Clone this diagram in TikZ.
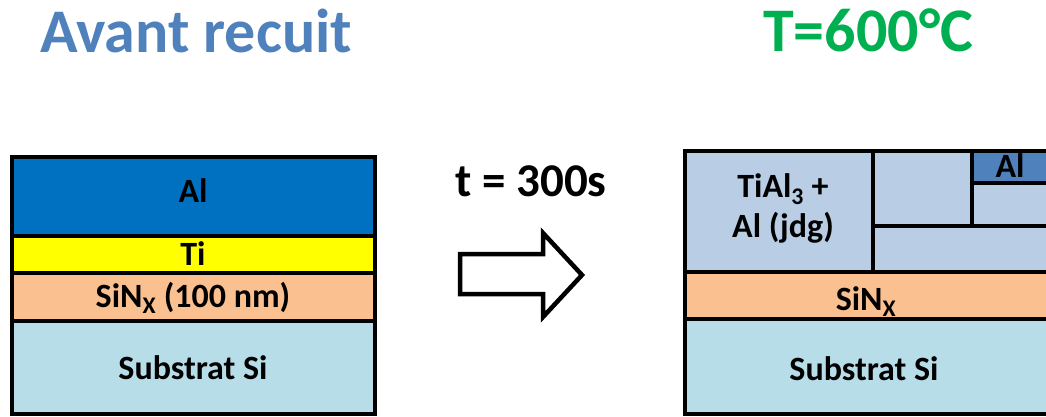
\documentclass[tikz,border=0pt]{standalone}
\usepackage{fontspec}
\setmainfont{Carlito}
\definecolor{titleblue}{HTML}{4F81BD}
\definecolor{titlegreen}{HTML}{00B050}
\definecolor{aldark}{HTML}{0070C0}
\definecolor{tiyellow}{HTML}{FFFF00}
\definecolor{sinpeach}{HTML}{FAC090}
\definecolor{subblue}{HTML}{B7DEE8}
\definecolor{mixblue}{HTML}{B9CDE5}
\definecolor{alsmall}{HTML}{4F81BD}
\begin{document}
\begin{tikzpicture}[x=1pt,y=-1pt,
  layer/.style={draw=black,line width=3.2pt},
  lbl/.style={font=\fontsize{34}{38}\selectfont\bfseries,inner sep=0pt,anchor=base},
  ttl/.style={font=\fontsize{62}{66}\selectfont\bfseries,inner sep=0pt,anchor=base west}]
\useasboundingbox (0,0) rectangle (1046,417);
\begin{scope}
\clip (0,0) rectangle (1046,417);
% left stack
\filldraw[layer,fill=subblue] (12,321) rectangle (375,414);
\filldraw[layer,fill=sinpeach] (12,273) rectangle (375,321);
\filldraw[layer,fill=tiyellow] (12,236) rectangle (375,273);
\filldraw[layer,fill=aldark] (12,157) rectangle (375,236);
% right stack
\filldraw[layer,fill=subblue] (685,319) rectangle (1062,414);
\filldraw[layer,fill=sinpeach] (685,272) rectangle (1062,319);
\filldraw[layer,fill=mixblue] (685,151) rectangle (1062,272);
\filldraw[layer,fill=alsmall] (972,151) rectangle (1062,183);
\draw[layer] (873,151) -- (873,272);
\draw[layer] (873,226) -- (1062,226);
\draw[layer] (972,151) -- (972,226);
\end{scope}
% arrow
\draw[line width=4.5pt,miter limit=10] (460,254) -- (543,254) -- (543,233) -- (582,275) -- (543,317) -- (543,294) -- (460,294) -- cycle;
% labels
\node[lbl] (lal) at (193,202) {Al};
\node[lbl] (lti) at (193,265) {Ti};
\node[lbl] (lsin) at (193,307) {SiN\textsubscript{X} (100 nm)};
\node[lbl] (lsub) at (193,379) {Substrat Si};
\node[lbl] (rtial) at (783,197) {TiAl\textsubscript{3} +};
\node[lbl] (rjdg) at (783,237) {Al (jdg)};
\node[lbl] (ral) at (1010,177) {Al};
\node[lbl] (rsin) at (866,310) {SiN\textsubscript{X}};
\node[lbl] (rsub) at (864,380) {Substrat Si};
\node[font=\fontsize{47}{50}\selectfont\bfseries,inner sep=0pt,anchor=base] (time) at (531,196) {t = 300s};
\node[ttl,text=titleblue] (avant) at (40,53) {Avant recuit};
\node[ttl,text=titlegreen] (temp) at (763,52) {T=600°C};
\end{tikzpicture}
\end{document}
